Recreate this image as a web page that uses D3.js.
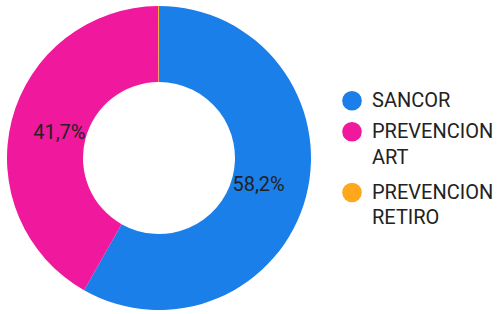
<!DOCTYPE html>
<html>
<head>
<meta charset="utf-8">
<script src="https://cdn.jsdelivr.net/npm/d3@7"></script>
<style>
  body { margin: 0; background: #fff; }
  text { font-family: Roboto, sans-serif; }
</style>
</head>
<body>
<div id="chart"></div>
<script>
const categories = ["SANCOR", "PREVENCION ART", "PREVENCION RETIRO"];
const legendLines = [["SANCOR"], ["PREVENCION", "ART"], ["PREVENCION", "RETIRO"]];
const values = [58.2, 41.7, 0.1];
const colors = ["#1a7fe8", "#f0189c", "#ffa81c"];

const width = 498, height = 314;
const cx = 159, cy = 158;
const outerR = 152, innerR = 76, labelR = 103;

const svg = d3.select("#chart")
  .append("svg")
  .attr("width", width)
  .attr("height", height);

const g = svg.append("g")
  .attr("transform", `translate(${cx},${cy})`);

const pie = d3.pie().sort(null).value(d => d);
const arcs = pie(values);

const arc = d3.arc().innerRadius(innerR).outerRadius(outerR);
const labelArc = d3.arc().innerRadius(labelR).outerRadius(labelR);

g.selectAll(".slice")
  .data(arcs)
  .enter()
  .append("path")
  .attr("class", "slice")
  .attr("d", arc)
  .attr("fill", (d, i) => colors[i]);

// percent labels, only for slices big enough
g.selectAll(".pct")
  .data(arcs.filter(d => d.data > 5))
  .enter()
  .append("text")
  .attr("class", "pct")
  .attr("transform", d => `translate(${labelArc.centroid(d)})`)
  .attr("text-anchor", "middle")
  .attr("dy", "0.35em")
  .attr("font-size", 20)
  .attr("fill", "#222")
  .text(d => d.data.toFixed(1).replace(".", ",") + "%");

// legend
const legend = svg.append("g").attr("transform", "translate(352,0)");
const rowY = [100.7, 131.8, 192.5];
const lineH = 25.5;

legendLines.forEach((lines, i) => {
  legend.append("circle")
    .attr("cx", 0)
    .attr("cy", rowY[i])
    .attr("r", 9.8)
    .attr("fill", colors[i]);
  const t = legend.append("text")
    .attr("x", 20)
    .attr("y", rowY[i] + 6.4)
    .attr("font-size", 20)
    .attr("fill", "#222");
  lines.forEach((l, j) => {
    t.append("tspan")
      .attr("x", 20)
      .attr("dy", j === 0 ? 0 : lineH)
      .text(l);
  });
});
</script>
</body>
</html>
